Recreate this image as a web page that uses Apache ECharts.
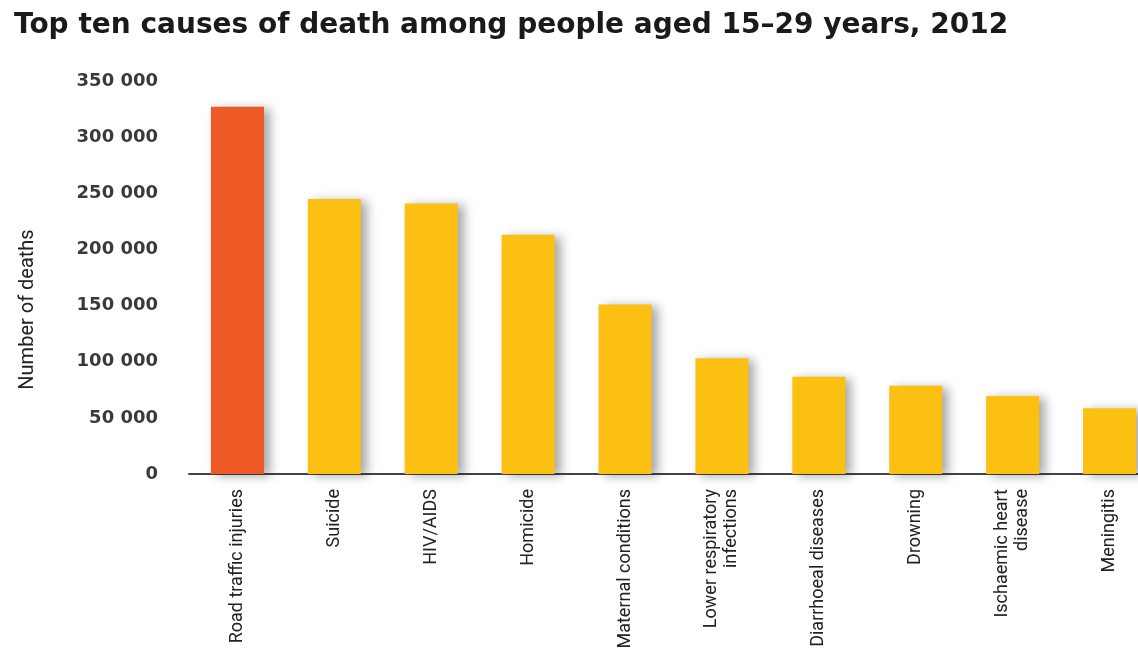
<!DOCTYPE html>
<html>
<head>
<meta charset="utf-8">
<script src="https://cdn.jsdelivr.net/npm/echarts@6/dist/echarts.min.js"></script>
<style>
  html, body { margin: 0; padding: 0; background: #fff; overflow: hidden; width: 1138px; height: 653px; }
  #chart { width: 1160px; height: 653px; }
</style>
</head>
<body>
<div id="chart"></div>
<script>
const titleText = 'Top ten causes of death among people aged 15–29 years, 2012';
const yAxisName = 'Number of deaths';
const categories = [
  'Road traffic injuries', 'Suicide', 'HIV/AIDS', 'Homicide', 'Maternal conditions',
  'Lower respiratory\ninfections', 'Diarrhoeal diseases', 'Drowning', 'Ischaemic heart\ndisease', 'Meningitis'
];
const deaths = [327000, 245000, 241000, 213000, 151000, 103000, 86500, 78500, 69500, 58500];
const highlightIndex = 0;
const yTicks = [0, 50000, 100000, 150000, 200000, 250000, 300000, 350000];

const chart = echarts.init(document.getElementById('chart'), null, { renderer: 'canvas' });

const barData = deaths.map((v, i) => ({
  value: v,
  itemStyle: { color: i === highlightIndex ? '#EE5A26' : '#FCC012' }
}));

chart.setOption({
  backgroundColor: '#ffffff',
  animation: false,
  title: {
    text: titleText,
    left: 9,
    top: 7,
    textStyle: { fontFamily: 'DejaVu Sans', fontWeight: 'bold', fontSize: 28, color: '#1a1a1a' }
  },
  grid: { left: 189, top: 81, right: 2, bottom: 179, containLabel: false },
  xAxis: {
    type: 'category',
    data: categories,
    axisLine: { show: true, lineStyle: { color: '#444', width: 2 } },
    axisTick: { show: false },
    axisLabel: {
      rotate: 90,
      margin: 15,
      interval: 0,
      fontFamily: 'Roboto',
      fontSize: 18,
      color: '#222',
      lineHeight: 20
    }
  },
  yAxis: {
    type: 'value',
    min: yTicks[0],
    max: yTicks[yTicks.length - 1],
    interval: yTicks[1] - yTicks[0],
    name: yAxisName,
    nameLocation: 'middle',
    nameRotate: 90,
    nameGap: 151,
    nameTextStyle: { fontFamily: 'Roboto', fontSize: 20, color: '#222', padding: [0, 64, 0, 0] },
    axisLine: { show: false },
    axisTick: { show: false },
    splitLine: { show: false },
    axisLabel: {
      margin: 31,
      fontFamily: 'DejaVu Sans',
      fontWeight: 'bold',
      fontSize: 18,
      color: '#3a3a3a',
      formatter: v => v === 0 ? '0' : String(v).replace(/\B(?=(\d{3})+(?!\d))/g, ' ')
    }
  },
  series: [{
    type: 'bar',
    data: barData,
    barWidth: 53,
    itemStyle: {
      shadowColor: 'rgba(0,0,0,0.35)',
      shadowBlur: 10,
      shadowOffsetX: 6,
      shadowOffsetY: 2
    }
  }]
});
</script>
</body>
</html>
